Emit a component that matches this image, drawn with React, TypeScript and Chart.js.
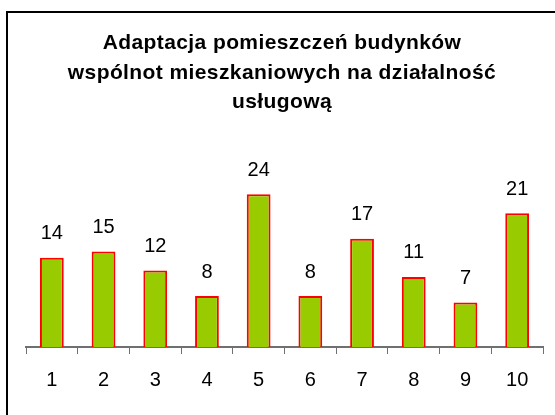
import React, { useEffect, useRef } from "react";
import { Chart, registerables } from "chart.js";

Chart.register(...registerables);

const categories = ["1", "2", "3", "4", "5", "6", "7", "8", "9", "10"];
const values = [14, 15, 12, 8, 24, 8, 17, 11, 7, 21];
const titleLines = [
  "Adaptacja pomieszczeń budynków",
  "wspólnot mieszkaniowych na działalność",
  "usługową",
];
const yMax = 30;

const FONT = "'Liberation Sans', Arial, sans-serif";

const valueLabels = {
  id: "valueLabels",
  afterDatasetsDraw(chart: any) {
    const ctx = chart.ctx;
    const meta = chart.getDatasetMeta(0);
    ctx.save();
    ctx.font = `20px ${FONT}`;
    ctx.fillStyle = "#000";
    ctx.textAlign = "center";
    ctx.textBaseline = "alphabetic";
    meta.data.forEach((bar: any, i: number) => {
      ctx.fillText(String(values[i]), bar.x, bar.y - 18.5);
    });
    ctx.restore();
  },
};

const titleDraw = {
  id: "titleDraw",
  afterDraw(chart: any) {
    const ctx = chart.ctx;
    ctx.save();
    ctx.font = `bold 21px ${FONT}`;
    ctx.fillStyle = "#000";
    ctx.textAlign = "center";
    ctx.textBaseline = "alphabetic";
    try {
      (ctx as any).letterSpacing = "0.4px";
    } catch (e) {}
    titleLines.forEach((line, i) => {
      ctx.fillText(line, 282, 49 + i * 29.5);
    });
    ctx.restore();
  },
};

export default function App() {
  const ref = useRef<HTMLCanvasElement | null>(null);
  useEffect(() => {
    if (!ref.current) return;
    const chart = new Chart(ref.current, {
      type: "bar",
      data: {
        labels: categories,
        datasets: [
          {
            data: values,
            backgroundColor: "#99CC00",
            borderColor: "#FF0000",
            borderWidth: 2,
            barPercentage: 0.46,
            categoryPercentage: 1,
          },
        ],
      },
      options: {
        responsive: false,
        animation: false,
        layout: { padding: { left: 26, right: 12, top: 156, bottom: 9 } },
        plugins: {
          legend: { display: false },
          tooltip: { enabled: false },
          title: { display: false },
        },
        scales: {
          x: {
            grid: {
              drawOnChartArea: false,
              drawTicks: true,
              tickLength: 7,
              color: "#707070",
              lineWidth: 1,
            },
            border: { display: true, color: "#707070", width: 2 },
            ticks: {
              color: "#000",
              font: { family: FONT, size: 20 },
              padding: 14,
            },
          },
          y: {
            display: false,
            min: 0,
            max: yMax,
          },
        },
      },
      plugins: [valueLabels, titleDraw],
    });
    return () => chart.destroy();
  }, []);

  return (
    <div
      style={{
        position: "fixed",
        left: 0,
        top: 0,
        width: 555,
        height: 415,
        overflow: "hidden",
        background: "#fff",
      }}
    >
      <canvas
        ref={ref}
        width={555}
        height={415}
        style={{ position: "absolute", left: 0, top: 0, width: 555, height: 415 }}
      />
      <div
        style={{
          position: "absolute",
          left: 6,
          top: 11,
          width: 600,
          height: 500,
          border: "2px solid #000",
          pointerEvents: "none",
        }}
      />
    </div>
  );
}
